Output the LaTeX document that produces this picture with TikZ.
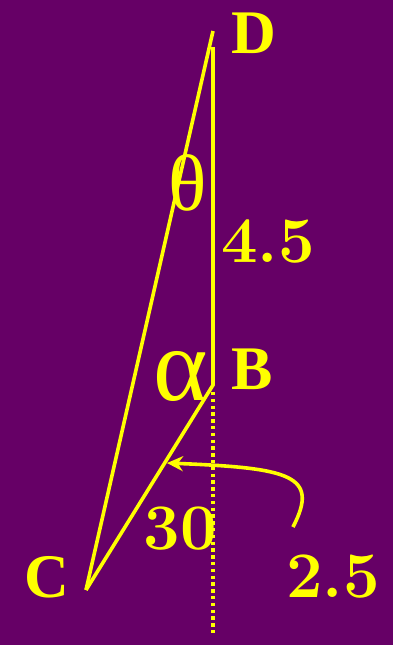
\documentclass[tikz,border=0pt]{standalone}
\usepackage{fontspec}
\newfontfamily\ptfont{Liberation Serif}
\usepackage{tikz}
\usetikzlibrary{arrows.meta}
\definecolor{slidepurple}{RGB}{102,0,102}
\definecolor{slideyellow}{RGB}{255,255,0}

\begin{document}
\begin{tikzpicture}[x=0.5pt,y=-0.5pt,
  edge/.style={slideyellow,line width=1.8pt},
  ptlabel/.style={slideyellow,inner sep=0pt,font=\ptfont\bfseries\fontsize{31}{36}\selectfont},
  numlabel/.style={slideyellow,inner sep=0pt,font=\bfseries\fontsize{32.5}{36}\selectfont},
  anglabel/.style={slideyellow,inner sep=0pt,font=\ptfont\fontsize{40}{44}\selectfont}]
  % background, pixel grid 393x645 (y grows downward)
  \fill[slidepurple] (0,0) rectangle (393,645);
  \useasboundingbox (0,0) rectangle (393,645);
  % corner points
  \coordinate (Dtip) at (213,31);
  \coordinate (D) at (213,47);
  \coordinate (B) at (213,385);
  \coordinate (C) at (86,590);
  \coordinate (Bdot) at (213,392);
  \coordinate (Bend) at (213,635);
  % triangle sides
  \draw[edge] (C) -- (Dtip);
  \draw[edge] (D) -- (B) -- (C);
  % dotted plumb line below B
  \draw[edge,dash pattern=on 1.7pt off 1.7pt] (Bdot) -- (Bend);
  % labels
  \node[ptlabel] (lblD) at (254,33) {D};
  \node[ptlabel] (lblB) at (252,369) {B};
  \node[ptlabel] (lblC) at (47,577) {C};
  \node[anglabel] (theta) at (188,183) {θ};
  \node[anglabel,scale=1.3] (alpha) at (181,376) {α};
  \node[numlabel] (len45) at (268,241) {4.5};
  \node[numlabel] (len30) at (180,529) {30};
  \node[numlabel] (len25) at (333,577) {2.5};
  % pointer from 2.5 to side BC
  \coordinate (ptrfrom) at (293,527);
  \coordinate (ptrto) at (167,463);
  \draw[edge,-{Stealth[length=8pt,width=7.5pt]}] (ptrfrom)
    .. controls (320,475) and (290,468) .. (ptrto);
\end{tikzpicture}
\end{document}
